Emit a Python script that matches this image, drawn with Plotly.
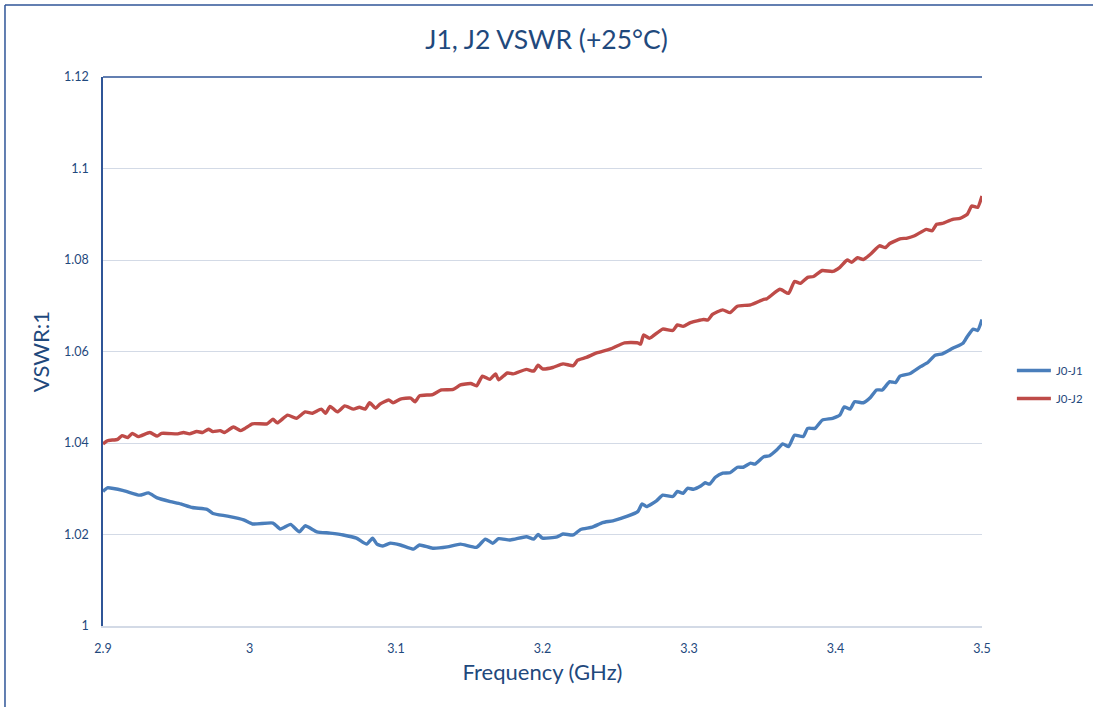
import plotly.graph_objects as go

# ---- data ----
freq_j1 = [2.900, 2.903, 2.914, 2.925, 2.931, 2.937, 2.946, 2.953, 2.961, 2.971, 2.975, 2.985,
           2.996, 3.002, 3.016, 3.021, 3.028, 3.034, 3.038, 3.046, 3.055, 3.064, 3.073, 3.080,
           3.084, 3.087, 3.091, 3.096, 3.103, 3.112, 3.116, 3.125, 3.135, 3.144, 3.155, 3.161,
           3.166, 3.170, 3.178, 3.189, 3.194, 3.197, 3.200, 3.210, 3.214, 3.221, 3.226, 3.234,
           3.241, 3.248, 3.258, 3.265, 3.268, 3.271, 3.278, 3.282, 3.289, 3.292, 3.296, 3.299,
           3.303, 3.308, 3.311, 3.314, 3.318, 3.323, 3.328, 3.333, 3.337, 3.342, 3.345, 3.351,
           3.355, 3.360, 3.364, 3.368, 3.372, 3.378, 3.381, 3.386, 3.391, 3.398, 3.403, 3.406,
           3.410, 3.413, 3.419, 3.424, 3.428, 3.432, 3.437, 3.441, 3.444, 3.451, 3.458, 3.463,
           3.468, 3.473, 3.480, 3.487, 3.490, 3.494, 3.497, 3.500]
vswr_j1 = [1.0294, 1.0302, 1.0296, 1.0286, 1.0291, 1.0280, 1.0272, 1.0267, 1.0259, 1.0255, 1.0246, 1.0240,
           1.0232, 1.0223, 1.0225, 1.0212, 1.0222, 1.0206, 1.0219, 1.0206, 1.0203, 1.0199, 1.0192, 1.0179,
           1.0192, 1.0179, 1.0175, 1.0181, 1.0177, 1.0168, 1.0177, 1.0170, 1.0173, 1.0179, 1.0172, 1.0190,
           1.0181, 1.0191, 1.0188, 1.0195, 1.0190, 1.0200, 1.0192, 1.0195, 1.0201, 1.0199, 1.0211, 1.0216,
           1.0226, 1.0230, 1.0240, 1.0250, 1.0267, 1.0261, 1.0274, 1.0286, 1.0283, 1.0294, 1.0290, 1.0301,
           1.0299, 1.0306, 1.0313, 1.0310, 1.0325, 1.0334, 1.0335, 1.0347, 1.0347, 1.0356, 1.0354, 1.0370,
           1.0372, 1.0385, 1.0398, 1.0392, 1.0417, 1.0414, 1.0432, 1.0432, 1.0450, 1.0454, 1.0461, 1.0479,
           1.0474, 1.0490, 1.0488, 1.0500, 1.0516, 1.0516, 1.0534, 1.0532, 1.0546, 1.0552, 1.0567, 1.0576,
           1.0592, 1.0595, 1.0607, 1.0618, 1.0633, 1.0649, 1.0646, 1.0670]

freq_j2 = [2.900, 2.903, 2.910, 2.913, 2.917, 2.920, 2.924, 2.932, 2.937, 2.940, 2.951, 2.955,
           2.959, 2.964, 2.968, 2.972, 2.975, 2.980, 2.983, 2.989, 2.994, 2.997, 3.002, 3.012,
           3.016, 3.019, 3.026, 3.032, 3.038, 3.043, 3.049, 3.052, 3.055, 3.060, 3.065, 3.071,
           3.075, 3.079, 3.082, 3.086, 3.089, 3.095, 3.098, 3.103, 3.110, 3.113, 3.116, 3.125,
           3.131, 3.139, 3.144, 3.151, 3.155, 3.159, 3.164, 3.168, 3.170, 3.176, 3.180, 3.189,
           3.194, 3.197, 3.200, 3.207, 3.214, 3.221, 3.224, 3.230, 3.237, 3.246, 3.256, 3.265,
           3.267, 3.269, 3.273, 3.282, 3.289, 3.292, 3.296, 3.301, 3.310, 3.313, 3.316, 3.323,
           3.328, 3.333, 3.342, 3.351, 3.353, 3.362, 3.368, 3.372, 3.376, 3.381, 3.385, 3.391,
           3.398, 3.403, 3.408, 3.411, 3.415, 3.419, 3.424, 3.430, 3.434, 3.437, 3.444, 3.449,
           3.454, 3.462, 3.466, 3.469, 3.473, 3.480, 3.485, 3.490, 3.493, 3.497, 3.500]
vswr_j2 = [1.0398, 1.0405, 1.0408, 1.0416, 1.0412, 1.0421, 1.0414, 1.0423, 1.0415, 1.0421, 1.0420, 1.0423,
           1.0420, 1.0425, 1.0423, 1.0430, 1.0425, 1.0427, 1.0423, 1.0435, 1.0427, 1.0432, 1.0442, 1.0442,
           1.0452, 1.0444, 1.0461, 1.0454, 1.0468, 1.0465, 1.0474, 1.0465, 1.0480, 1.0468, 1.0481, 1.0474,
           1.0478, 1.0474, 1.0488, 1.0476, 1.0485, 1.0494, 1.0488, 1.0496, 1.0498, 1.0490, 1.0503, 1.0506,
           1.0516, 1.0517, 1.0527, 1.0530, 1.0525, 1.0546, 1.0539, 1.0551, 1.0538, 1.0553, 1.0551, 1.0561,
           1.0557, 1.0570, 1.0562, 1.0565, 1.0573, 1.0569, 1.0581, 1.0587, 1.0597, 1.0605, 1.0619, 1.0619,
           1.0616, 1.0636, 1.0629, 1.0649, 1.0646, 1.0658, 1.0655, 1.0663, 1.0670, 1.0669, 1.0681, 1.0691,
           1.0685, 1.0699, 1.0702, 1.0714, 1.0715, 1.0736, 1.0727, 1.0753, 1.0749, 1.0762, 1.0764, 1.0777,
           1.0775, 1.0784, 1.0800, 1.0795, 1.0805, 1.0801, 1.0813, 1.0831, 1.0827, 1.0836, 1.0846, 1.0848,
           1.0853, 1.0867, 1.0864, 1.0878, 1.0880, 1.0889, 1.0891, 1.0900, 1.0918, 1.0915, 1.0940]

series_names = ["J0-J1", "J0-J2"]
x_tick_vals = [2.9, 3.0, 3.1, 3.2, 3.3, 3.4, 3.5]
x_tick_text = ["2.9", "3", "3.1", "3.2", "3.3", "3.4", "3.5"]
y_tick_vals = [1.0, 1.02, 1.04, 1.06, 1.08, 1.10, 1.12]
y_tick_text = ["1", "1.02", "1.04", "1.06", "1.08", "1.1", "1.12"]

FONT = "Lato, 'Open Sans', sans-serif"
TXT = "#1F497D"
AXIS = "#2F5597"
GRID = "#D3DAE6"

fig = go.Figure()
fig.add_trace(go.Scatter(x=freq_j1, y=vswr_j1, mode="lines", name=series_names[0],
                         legendgroup="a",
                         line=dict(color="#4A7EBB", width=3.4, shape="spline", smoothing=0.5)))
fig.add_trace(go.Scatter(x=freq_j2, y=vswr_j2, mode="lines", name=series_names[1],
                         legendgroup="b",
                         line=dict(color="#BE4B48", width=3.4, shape="spline", smoothing=0.5)))

fig.update_layout(
    width=1093, height=707,
    margin=dict(l=103, r=111, t=77, b=81, autoexpand=False),
    paper_bgcolor="white", plot_bgcolor="white",
    font=dict(family=FONT, color=TXT),
    title=dict(text="J1, J2 VSWR (+25°C)", x=0.5, xanchor="center", y=0.944, yanchor="middle",
               font=dict(size=26.5, color=TXT, family=FONT)),
    legend=dict(x=1.034, y=0.44, xanchor="left", yanchor="middle",
                font=dict(size=11.5, color=TXT), bgcolor="rgba(0,0,0,0)",
                tracegroupgap=9, itemwidth=34),
    showlegend=True,
)
fig.update_xaxes(range=[2.9, 3.5], tickvals=x_tick_vals, ticktext=x_tick_text,
                 showgrid=False, zeroline=False, showline=True, linecolor=GRID, linewidth=1.5,
                 ticks="outside", ticklen=10, tickcolor="rgba(0,0,0,0)",
                 tickfont=dict(size=12.5, color=TXT),
                 title=dict(text="Frequency (GHz)", font=dict(size=22, color=TXT), standoff=10))
fig.update_yaxes(range=[1.0, 1.12], tickvals=y_tick_vals, ticktext=y_tick_text,
                 showgrid=True, gridcolor=GRID, gridwidth=1.2, zeroline=False,
                 showline=True, linecolor=AXIS, linewidth=1.5,
                 ticks="outside", ticklen=10, tickcolor="rgba(0,0,0,0)",
                 tickfont=dict(size=12.5, color=TXT),
                 title=dict(text="VSWR:1", font=dict(size=22, color=TXT), standoff=8))

# top border line of plot area and outer chart frame
fig.add_shape(type="line", xref="paper", yref="paper", x0=0, x1=1, y0=1, y1=1,
              line=dict(color=AXIS, width=1.5))
fig.add_shape(type="line", xref="paper", yref="paper", x0=-0.1115, x1=-0.1115, y0=1.131, y1=-0.2,
              line=dict(color=AXIS, width=1.5))
fig.add_shape(type="line", xref="paper", yref="paper", x0=-0.1115, x1=1.2, y0=1.131, y1=1.131,
              line=dict(color=AXIS, width=1.5))

fig.write_html("out.html", config={"displayModeBar": False},
               post_script="document.body.style.margin='0px';")
